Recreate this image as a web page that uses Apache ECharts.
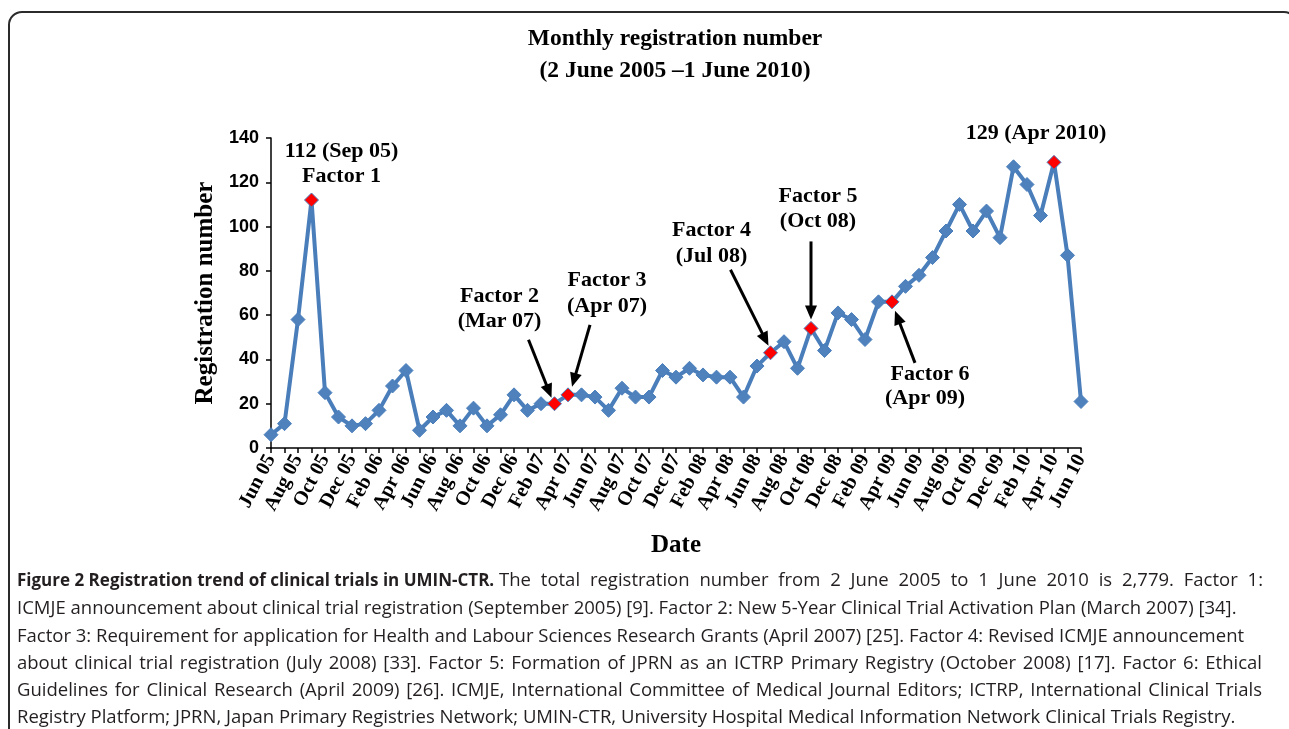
<!DOCTYPE html>
<html>
<head>
<meta charset="utf-8">
<title>Monthly registration number</title>
<script src="https://cdn.jsdelivr.net/npm/echarts@6/dist/echarts.min.js"></script>
<style>
  html, body { margin: 0; padding: 0; background: #fff; }
  #frame {
    position: absolute; left: 8px; top: 11px; width: 1290px; height: 760px;
    border: 2px solid #2b2b2b; border-radius: 14px; box-sizing: border-box;
  }
  #chart { position: absolute; left: 0; top: 0; width: 1289px; height: 729px; }
  #caption {
    position: absolute; left: 17px; top: 565px;
    font-family: "Open Sans", sans-serif; font-size: 18.5px; line-height: 27.3px;
    color: #231f20; white-space: nowrap;
  }
  #caption div { width: 1245px; text-align: left; }
  #caption div.j { text-align: justify; text-align-last: justify; }
  #caption b { font-weight: bold; font-size: 17px; }
  #caption span.rest { display: inline-block; width: 764px; text-align: justify; text-align-last: justify; }
</style>
</head>
<body>
<div id="frame"></div>
<div id="chart"></div>
<div id="caption">
  <div><b>Figure 2 Registration trend of clinical trials in UMIN-CTR.</b> <span class="rest">The total registration number from 2 June 2005 to 1 June 2010 is 2,779. Factor 1:</span></div>
  <div>ICMJE announcement about clinical trial registration (September 2005) [9]. Factor 2: New 5-Year Clinical Trial Activation Plan (March 2007) [34].</div>
  <div>Factor 3: Requirement for application for Health and Labour Sciences Research Grants (April 2007) [25]. Factor 4: Revised ICMJE announcement</div>
  <div class="j">about clinical trial registration (July 2008) [33]. Factor 5: Formation of JPRN as an ICTRP Primary Registry (October 2008) [17]. Factor 6: Ethical</div>
  <div class="j">Guidelines for Clinical Research (April 2009) [26]. ICMJE, International Committee of Medical Journal Editors; ICTRP, International Clinical Trials</div>
  <div>Registry Platform; JPRN, Japan Primary Registries Network; UMIN-CTR, University Hospital Medical Information Network Clinical Trials Registry.</div>
</div>
<script>
// months, Jun 05 .. Jun 10
var months = [
  'Jun 05', 'Jul 05', 'Aug 05', 'Sep 05', 'Oct 05', 'Nov 05', 'Dec 05',
  'Jan 06', 'Feb 06', 'Mar 06', 'Apr 06', 'May 06', 'Jun 06', 'Jul 06', 'Aug 06', 'Sep 06', 'Oct 06', 'Nov 06', 'Dec 06',
  'Jan 07', 'Feb 07', 'Mar 07', 'Apr 07', 'May 07', 'Jun 07', 'Jul 07', 'Aug 07', 'Sep 07', 'Oct 07', 'Nov 07', 'Dec 07',
  'Jan 08', 'Feb 08', 'Mar 08', 'Apr 08', 'May 08', 'Jun 08', 'Jul 08', 'Aug 08', 'Sep 08', 'Oct 08', 'Nov 08', 'Dec 08',
  'Jan 09', 'Feb 09', 'Mar 09', 'Apr 09', 'May 09', 'Jun 09', 'Jul 09', 'Aug 09', 'Sep 09', 'Oct 09', 'Nov 09', 'Dec 09',
  'Jan 10', 'Feb 10', 'Mar 10', 'Apr 10', 'May 10', 'Jun 10'
];

// monthly registration number (sums to 2,779)
var registrations = [
  6, 11, 58, 112, 25, 14, 10,
  11, 17, 28, 35, 8, 14, 17, 10, 18, 10, 15, 24,
  17, 20, 20, 24, 24, 23, 17, 27, 23, 23, 35, 32,
  36, 33, 32, 32, 23, 37, 43, 48, 36, 54, 44, 61,
  58, 49, 66, 66, 73, 78, 86, 98, 110, 98, 107, 95,
  127, 119, 105, 129, 87, 21
];

// highlighted months (red markers)
var factorMonths = ['Sep 05', 'Mar 07', 'Apr 07', 'Jul 08', 'Oct 08', 'Apr 09', 'Apr 10'];

var yMin = 0;
var yMax = 140;
var yStep = 20;

var serif = '"Liberation Serif", "Times New Roman", serif';
var blue = '#4a7ebb';

var seriesData = registrations.map(function (v, i) {
  if (factorMonths.indexOf(months[i]) >= 0) {
    return { value: v, itemStyle: { color: '#ff0000', borderColor: blue, borderWidth: 1 } };
  }
  return v;
});

var chart = echarts.init(document.getElementById('chart'));

var option = {
  animation: false,
  title: {
    text: 'Monthly registration number\n(2 June 2005 \u20131 June 2010)',
    left: 670,
    top: 18,
    textAlign: 'center',
    textStyle: { fontFamily: serif, fontWeight: 'bold', fontSize: 23.5, lineHeight: 32, color: '#000' }
  },
  grid: { left: 271, right: 208, top: 138, bottom: 281, outerBoundsMode: 'none' },
  xAxis: {
    type: 'category',
    data: months,
    boundaryGap: false,
    axisLine: { lineStyle: { color: '#000', width: 1.5 } },
    axisTick: { interval: 0, length: 5, lineStyle: { color: '#000', width: 1.5 } },
    axisLabel: {
      interval: 1, rotate: 62, margin: 8,
      fontFamily: serif, fontWeight: 'bold', fontSize: 20, color: '#000'
    },
    name: 'Date',
    nameLocation: 'middle',
    nameGap: 85,
    nameTextStyle: { fontFamily: serif, fontWeight: 'bold', fontSize: 25, color: '#000' }
  },
  yAxis: {
    type: 'value',
    min: yMin, max: yMax, interval: yStep,
    splitLine: { show: false },
    axisLine: { show: true, lineStyle: { color: '#000', width: 1.5 } },
    axisTick: { show: true, length: 5, lineStyle: { color: '#000', width: 1.5 } },
    axisLabel: {
      margin: 12,
      fontFamily: '"Liberation Sans", Arial, sans-serif', fontWeight: 'bold', fontSize: 18, color: '#000'
    },
    name: 'Registration number',
    nameLocation: 'middle',
    nameRotate: 90,
    nameGap: 52,
    nameTextStyle: { fontFamily: serif, fontWeight: 'bold', fontSize: 25, color: '#000' }
  },
  series: [{
    type: 'line',
    data: seriesData,
    symbol: 'diamond',
    symbolSize: 14,
    showAllSymbol: true,
    lineStyle: { color: blue, width: 4 },
    itemStyle: { color: '#4f81bd', borderColor: blue, borderWidth: 1 },
    z: 3
  }]
};

chart.setOption(option);

// annotations: text lines and arrows, placed relative to their data point
var notes = [
  { month: 'Sep 05', lines: [['112 (Sep 05)', 30, -49], ['Factor 1', 30, -24]] },
  { month: 'Mar 07', lines: [['Factor 2', -55, -107], ['(Mar 07)', -55, -82]], arrow: [-26, -64, -3, -6] },
  { month: 'Apr 07', lines: [['Factor 3', 39, -115], ['(Apr 07)', 39, -89]], arrow: [22, -70, 4, -8] },
  { month: 'Jul 08', lines: [['Factor 4', -59, -122], ['(Jul 08)', -59, -96]], arrow: [-40, -83, -2, -7] },
  { month: 'Oct 08', lines: [['Factor 5', 7, -132], ['(Oct 08)', 7, -107]], arrow: [0, -87, 0, -9] },
  { month: 'Apr 09', lines: [['Factor 6', 38, 72], ['(Apr 09)', 33, 96]], arrow: [23, 61, 3, 9] },
  { month: 'Apr 10', lines: [['129 (Apr 2010)', -18, -29]] }
];

function drawNotes() {
  var g = [];
  notes.forEach(function (n) {
    var i = months.indexOf(n.month);
    var p = chart.convertToPixel({ seriesIndex: 0 }, [i, registrations[i]]);
    n.lines.forEach(function (l) {
      g.push({
        type: 'text',
        x: p[0] + l[1],
        y: p[1] + l[2],
        z: 10,
        style: {
          text: l[0], fill: '#000', align: 'center', verticalAlign: 'middle',
          font: 'bold 22px ' + serif
        }
      });
    });
    if (n.arrow) {
      var sx = p[0] + n.arrow[0], sy = p[1] + n.arrow[1];
      var tx = p[0] + n.arrow[2], ty = p[1] + n.arrow[3];
      var dx = tx - sx, dy = ty - sy;
      var len = Math.sqrt(dx * dx + dy * dy);
      var ux = dx / len, uy = dy / len;
      var head = 14, half = 6;
      var bx = tx - ux * head, by = ty - uy * head;
      g.push({
        type: 'line', z: 9,
        shape: { x1: sx, y1: sy, x2: bx + ux * 2, y2: by + uy * 2 },
        style: { stroke: '#000', lineWidth: 3 }
      });
      g.push({
        type: 'polygon', z: 9,
        shape: { points: [[tx, ty], [bx - uy * half, by + ux * half], [bx + uy * half, by - ux * half]] },
        style: { fill: '#000' }
      });
    }
  });
  chart.setOption({ graphic: g });
}

drawNotes();
</script>
</body>
</html>
